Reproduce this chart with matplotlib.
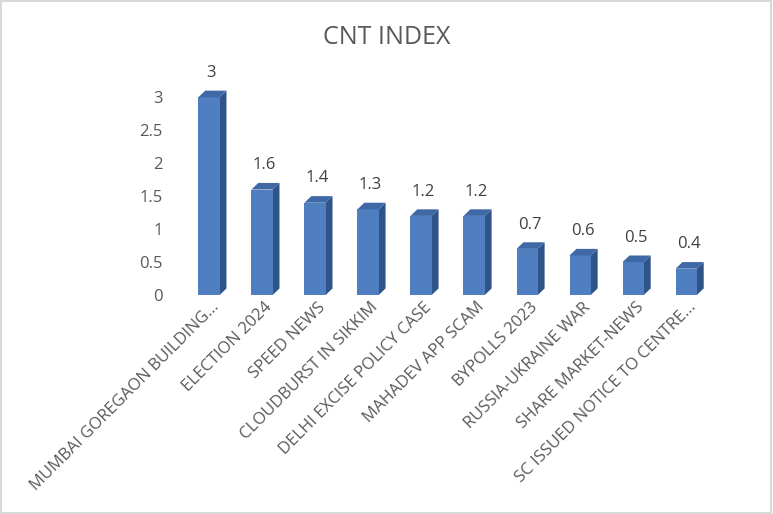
import numpy as np
import matplotlib.pyplot as plt
from matplotlib.patches import Polygon, Rectangle

# ---------- Data ----------
categories = [
    "MUMBAI GOREGAON BUILDING...",
    "ELECTION 2024",
    "SPEED NEWS",
    "CLOUDBURST IN SIKKIM",
    "DELHI EXCISE POLICY CASE",
    "MAHADEV APP SCAM",
    "BYPOLLS 2023",
    "RUSSIA-UKRAINE WAR",
    "SHARE MARKET-NEWS",
    "SC ISSUED NOTICE TO CENTRE...",
]
values = [3.0, 1.6, 1.4, 1.3, 1.2, 1.2, 0.7, 0.6, 0.5, 0.4]
value_labels = ["3", "1.6", "1.4", "1.3", "1.2", "1.2", "0.7", "0.6", "0.5", "0.4"]
yticks = [0, 0.5, 1, 1.5, 2, 2.5, 3]
ytick_labels = ["0", "0.5", "1", "1.5", "2", "2.5", "3"]

# ---------- Style ----------
plt.rcParams['font.family'] = ['Open Sans', 'DejaVu Sans']
text_col = '#595959'
front_col = '#4F7FC0'
side_col = '#2F5489'
top_col = '#3E69A6'

fig = plt.figure(figsize=(7.73, 5.14), dpi=100)
fig.patches.append(Rectangle((0.001, 0.001), 0.997, 0.997, transform=fig.transFigure,
                             fill=False, edgecolor='#D9D9D9', linewidth=1.5))

ax = fig.add_axes([0.239, 0.426, 0.686, 0.449])
x = np.arange(len(categories))
bw = 0.40      # front face width
dx = 0.13      # 3D depth horizontal (data units)
dy = 0.10      # 3D depth vertical (data units)

ax.bar(x - dx / 3, values, width=bw, color=front_col, zorder=3)
for xi, v in zip(x, values):
    x0 = xi - dx / 3 - bw / 2
    x1 = xi - dx / 3 + bw / 2
    side = Polygon([(x1, 0), (x1 + dx, dy), (x1 + dx, v + dy), (x1, v)],
                   closed=True, facecolor=side_col, edgecolor='none', zorder=2)
    top = Polygon([(x0, v), (x1, v), (x1 + dx, v + dy), (x0 + dx, v + dy)],
                  closed=True, facecolor=top_col, edgecolor='none', zorder=4)
    ax.add_patch(side)
    ax.add_patch(top)

for xi, v, lab in zip(x, values, value_labels):
    ax.annotate(lab, (xi, v + dy), xytext=(0, 7), textcoords='offset points',
                ha='center', va='bottom', fontsize=12, color='#404040', clip_on=False)

ax.set_xlim(-0.5, len(categories) - 0.5)
ax.set_ylim(0, 3.5)
ax.set_yticks(yticks)
ax.set_yticklabels(ytick_labels, fontsize=12, color=text_col)
ax.set_xticks(x)
ax.set_xticklabels(categories, rotation=45, ha='right', rotation_mode='anchor',
                   fontsize=12, color=text_col)
ax.tick_params(axis='both', length=0)
ax.tick_params(axis='y', pad=16)
ax.tick_params(axis='x', pad=3)
for s in ax.spines.values():
    s.set_visible(False)

fig.text(0.5, 0.928, "CNT INDEX", ha='center', va='center', fontsize=18, color=text_col)

fig.savefig("out.png", dpi=100)
